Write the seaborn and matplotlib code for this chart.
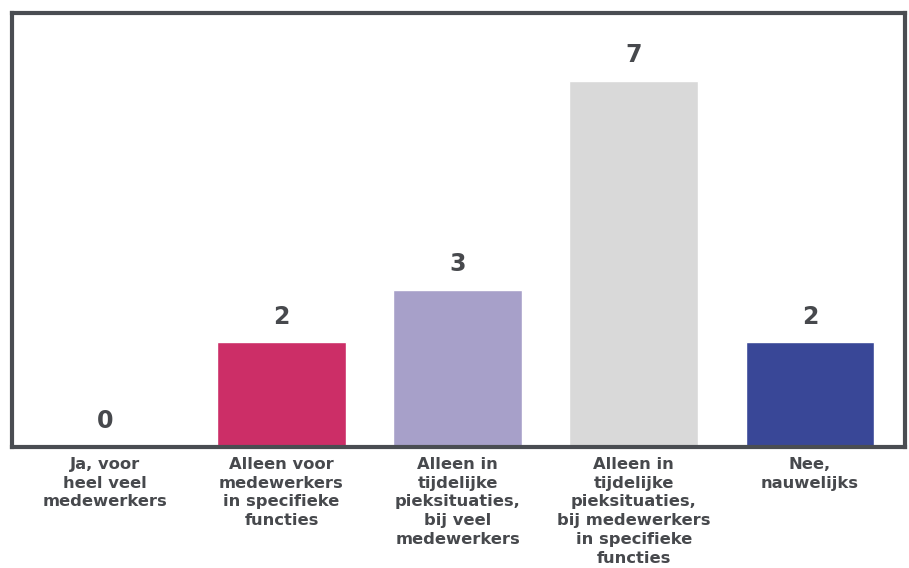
import matplotlib
matplotlib.use("Agg")
import matplotlib.pyplot as plt
import seaborn as sns
import pandas as pd

categories = [
    "Ja, voor\nheel veel\nmedewerkers",
    "Alleen voor\nmedewerkers\nin specifieke\nfuncties",
    "Alleen in\ntijdelijke\npieksituaties,\nbij veel\nmedewerkers",
    "Alleen in\ntijdelijke\npieksituaties,\nbij medewerkers\nin specifieke\nfuncties",
    "Nee,\nnauwelijks",
]
values = [0, 2, 3, 7, 2]
colors = ["#CC2E67", "#CC2E67", "#A7A0C9", "#D9D9D9", "#394797"]

sns.set_theme(style="white")
plt.rcParams["font.family"] = ["DejaVu Sans"]

df = pd.DataFrame({"cat": categories, "val": values})

fig = plt.figure(figsize=(9.09, 5.68), dpi=100)
ax = fig.add_axes([12 / 909, 121 / 568, 893 / 909, 434 / 568])

sns.barplot(data=df, x="cat", y="val", hue="cat", palette=colors,
            legend=False, width=0.73, saturation=1, ax=ax)

text_col = "#47494d"
for cont in ax.containers:
    ax.bar_label(cont, fmt="%d", padding=10, fontsize=17, fontweight="bold",
                 color=text_col)

ax.set_ylim(0, 8.3)
ax.set_xlim(-0.53, 4.54)
ax.set_yticks([])
ax.set_xlabel("")
ax.set_ylabel("")
ax.tick_params(axis="x", length=0, pad=7)
for lbl in ax.get_xticklabels():
    lbl.set_fontsize(11.8)
    lbl.set_fontweight("bold")
    lbl.set_color(text_col)
    lbl.set_linespacing(1.32)
    lbl.set_verticalalignment("top")

for s in ax.spines.values():
    s.set_visible(True)
    s.set_color("#4a4d52")
    s.set_linewidth(3)

fig.savefig("out.png", dpi=100, facecolor="white")
